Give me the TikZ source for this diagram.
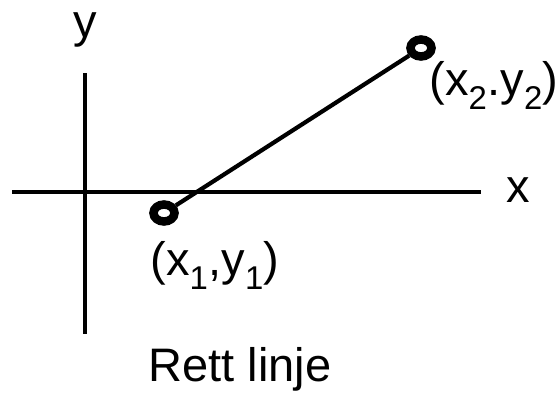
\documentclass[tikz,border=0pt]{standalone}
\usepackage{fontspec}
\setmainfont{Liberation Sans}
\usetikzlibrary{shapes.geometric}
\tikzset{
  axisline/.style={
    line width=4.2pt,
    draw=black
  },
  pointring/.style={
    ellipse,
    draw=black,
    line width=8.5pt,
    minimum width=21pt,
    minimum height=17pt,
    inner sep=0pt
  },
  seglabel/.style={
    inner sep=0pt,
    anchor=base,
    font=\fontsize{47}{55}\selectfont
  }
}
\begin{document}
\begin{tikzpicture}[x=1pt,y=-1pt]
\useasboundingbox (0,0) rectangle (558,392);

\coordinate (xaxisleft) at (12,192);
\coordinate (xaxisright) at (481,192);
\coordinate (yaxistop) at (85,73);
\coordinate (yaxisbottom) at (85,334);

\node[pointring] (p1) at (164,213) {};
\node[pointring] (p2) at (421,48) {};

\node[seglabel] (ylabel) at (85,37) {y};
\node[seglabel] (xlabel) at (518,202) {x};
\node[seglabel] (p1label) at (215,275) {(x\textsubscript{1},y\textsubscript{1})};
\node[seglabel] (p2label) at (494,95) {(x\textsubscript{2}.y\textsubscript{2})};
\node[seglabel] (title) at (240,381) {Rett linje};

\draw[axisline] (xaxisleft) -- (xaxisright);
\draw[axisline] (yaxistop) -- (yaxisbottom);
\draw[axisline] (p1) -- (p2);
\end{tikzpicture}
\end{document}
